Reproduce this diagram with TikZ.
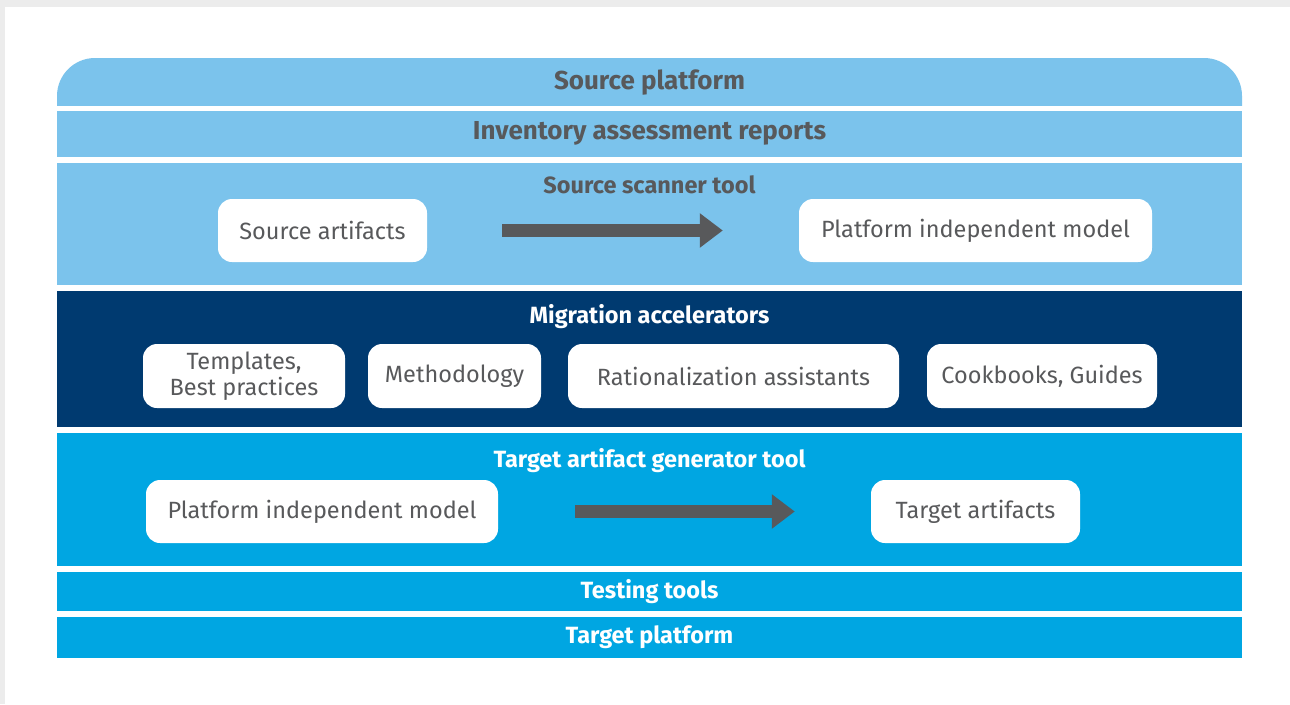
\documentclass[tikz,border=0pt]{standalone}
\usepackage{fontspec}
\setmainfont{Fira Sans}
\usepackage{tikz}
\usetikzlibrary{arrows.meta}
\definecolor{skyBlue}{RGB}{123,195,236}
\definecolor{oceanBlue}{RGB}{0,166,226}
\definecolor{navyBlue}{RGB}{0,58,112}
\definecolor{textGray}{RGB}{88,89,91}
\definecolor{frameGray}{RGB}{236,236,236}

\begin{document}
\begin{tikzpicture}[x=1pt,y=-1pt,
  band/.style={inner sep=0pt, minimum width=1185pt, text=textGray, font=\bfseries\fontsize{26}{26}\selectfont},
  smallBand/.style={band, font=\bfseries\fontsize{23.5}{23.5}\selectfont},
  bandTitle/.style={inner sep=0pt, font=\bfseries\fontsize{23.5}{23.5}\selectfont},
  box/.style={fill=white, rounded corners=14pt, inner sep=0pt, minimum height=63pt, text=textGray, align=center, font=\fontsize{23.5}{26}\selectfont},
  bigArrow/.style={draw=textGray, line width=13pt, -{Triangle[width=33pt,length=23pt]}}]
\fill[frameGray] (0,0) rectangle (1290,704);
\fill[white] (5,7) rectangle (1290,704);
\useasboundingbox (0,0) rectangle (1290,704);
\begin{scope}
  \clip (57,58) rectangle (1242,105);
  \fill[skyBlue, rounded corners=38pt] (57,58) rectangle (1242,160);
\end{scope}
\node[band] (srcplat) at (649.5,82.5) {Source platform};
\node[band, fill=skyBlue, minimum height=46pt] (inventory) at (649.5,133.5) {Inventory assessment reports};
\node[band, fill=skyBlue, minimum height=122pt] (scanner) at (649.5,224) {};
\node[bandTitle, text=textGray] (scannerTitle) at (649.5,185) {Source scanner tool};
\node[band, fill=navyBlue, minimum height=136pt] (accel) at (649.5,359) {};
\node[bandTitle, text=white] (accelTitle) at (649.5,317) {Migration accelerators};
\node[band, fill=oceanBlue, minimum height=133pt] (generator) at (649.5,499.5) {};
\node[bandTitle, text=white] (generatorTitle) at (649.5,461) {Target artifact generator tool};
\node[smallBand, fill=oceanBlue, minimum height=39pt, text=white] (testing) at (649.5,591.5) {Testing tools};
\node[smallBand, fill=oceanBlue, minimum height=41pt, text=white] (tgtplat) at (649.5,637.5) {Target platform};

\node[box, minimum width=209pt] (srcArt) at (322.5,230.5) {Source artifacts};
\node[box, minimum width=353pt] (pimTop) at (975.5,230.5) {Platform independent model};
\draw[bigArrow, shorten <=75pt, shorten >=76pt] (srcArt.east) -- (pimTop.west);

\node[box, minimum width=202pt, minimum height=64pt] (templ) at (244,376) {Templates,\\Best practices};
\node[box, minimum width=173pt, minimum height=64pt] (method) at (454.5,376) {Methodology};
\node[box, minimum width=331pt, minimum height=64pt] (ration) at (733.5,376) {Rationalization assistants};
\node[box, minimum width=230pt, minimum height=64pt] (cook) at (1042,376) {Cookbooks, Guides};

\node[box, minimum width=352pt] (pimBot) at (322,511.5) {Platform independent model};
\node[box, minimum width=209pt] (tgtArt) at (975.5,511.5) {Target artifacts};
\draw[bigArrow, shorten <=77pt, shorten >=76pt] (pimBot.east) -- (tgtArt.west);
\end{tikzpicture}
\end{document}
